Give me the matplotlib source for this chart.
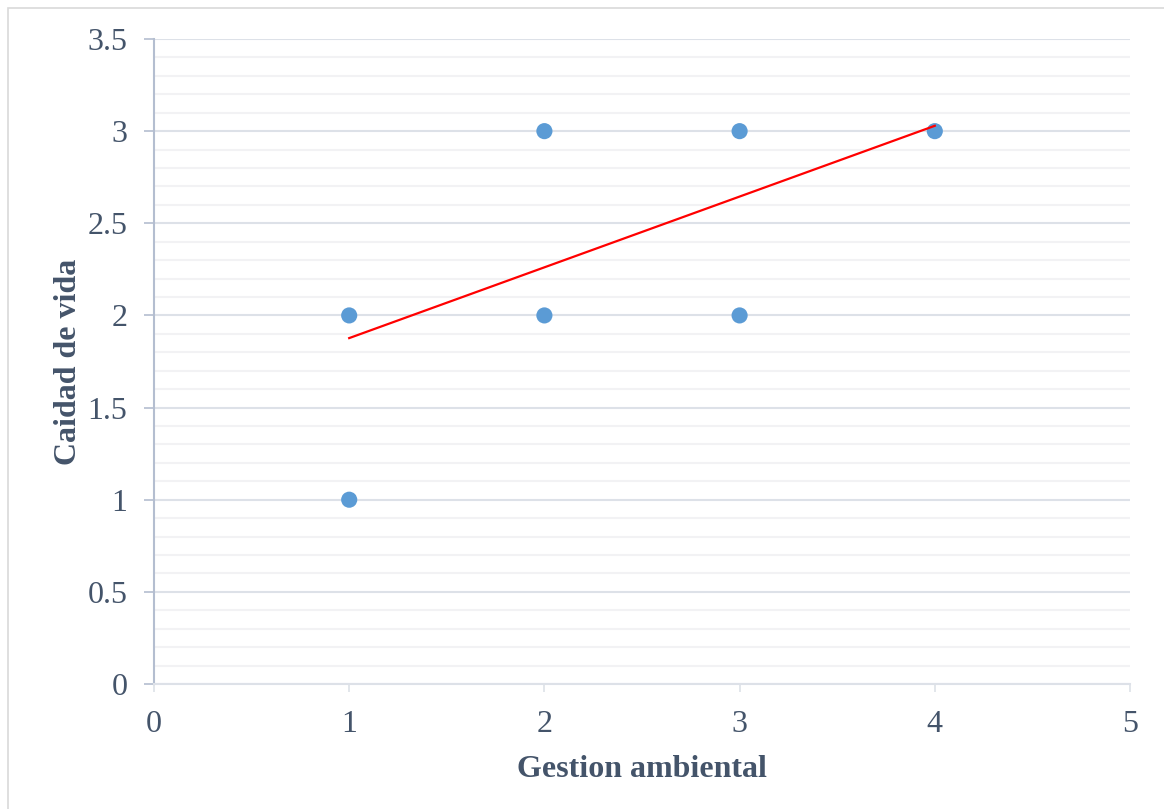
import numpy as np
import matplotlib.pyplot as plt
from matplotlib.patches import Rectangle
from matplotlib.ticker import MultipleLocator

# data
gestion = [1, 1, 2, 2, 3, 3, 4]
calidad = [1, 2, 2, 3, 2, 3, 3]
trend_slope = 0.384
trend_intercept = 1.493
trend_x = [1, 4]

text_col = '#44546A'
plt.rcParams['font.family'] = ['Liberation Serif', 'DejaVu Serif']

fig = plt.figure(figsize=(11.64, 8.09), dpi=100)
fig.patches.append(Rectangle((8 / 1164, -0.1), 1.2, 1 - 8 / 809 + 0.1,
                             transform=fig.transFigure, fill=False,
                             edgecolor='#D9D9D9', lw=1.2))
ax = fig.add_axes([154 / 1164, 1 - 684 / 809, (1130 - 154) / 1164, (684 - 39) / 809])

ax.set_xlim(0, 5)
ax.set_ylim(0, 3.5)
ax.xaxis.set_major_locator(MultipleLocator(1))
ax.yaxis.set_major_locator(MultipleLocator(0.5))
ax.yaxis.set_minor_locator(MultipleLocator(0.1))
ax.grid(which='major', axis='y', color='#DDE1E8', lw=1.5, zorder=0)
ax.grid(which='minor', axis='y', color='#F2F2F4', lw=1.5, zorder=0)
ax.set_axisbelow(True)

for s in ['top', 'right']:
    ax.spines[s].set_visible(False)
ax.spines['left'].set_color('#B4BED0')
ax.spines['left'].set_linewidth(1.5)
ax.spines['bottom'].set_color('#DDE1E8')
ax.spines['bottom'].set_linewidth(1.5)

ax.tick_params(axis='y', which='major', length=7, width=1.2, color='#B4BED0',
               labelsize=23, labelcolor=text_col, pad=12)
ax.tick_params(axis='y', which='minor', length=0)
ax.tick_params(axis='x', length=6, width=1.2, color='#DDE1E8',
               labelsize=23, labelcolor=text_col, pad=13)
ax.yaxis.set_major_formatter(plt.FuncFormatter(lambda v, p: f'{v:g}'))

ax.scatter(gestion, calidad, s=135, color='#5B9BD5', zorder=3, edgecolors='none')
tx = np.array(trend_x)
ax.plot(tx, trend_slope * tx + trend_intercept, color='#FF0000', lw=1.6, zorder=4)

ax.set_xlabel('Gestion ambiental', fontsize=23, fontweight='bold', color=text_col, labelpad=11)
ax.set_ylabel('Caidad de vida', fontsize=23, fontweight='bold', color=text_col, labelpad=3)

fig.savefig('out.png', dpi=100)
